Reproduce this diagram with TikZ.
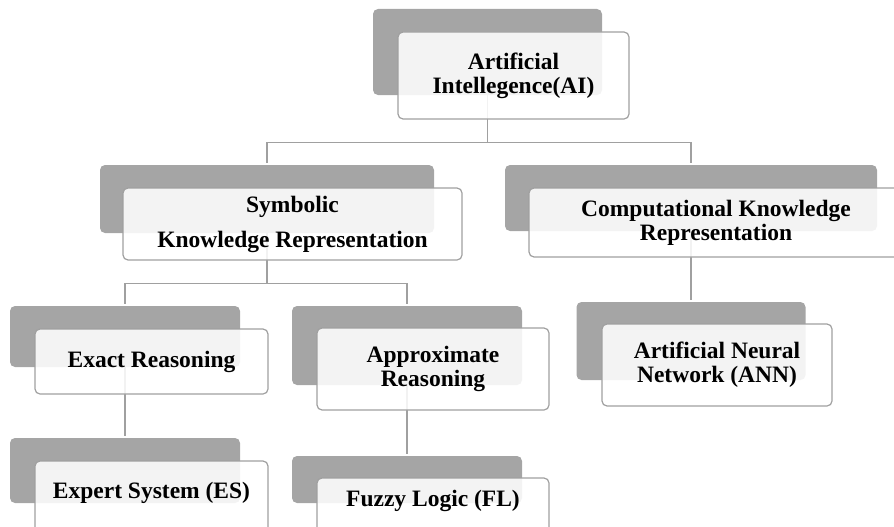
\documentclass[tikz,border=0pt]{standalone}
\usepackage{fontspec}
\setmainfont{Liberation Serif}
\usetikzlibrary{positioning}
\definecolor{shadegray}{HTML}{A5A5A5}
\definecolor{rulegray}{HTML}{A0A0A0}
\tikzset{
     back box/.style  = {rectangle, rounded corners=5pt, fill=shadegray, inner sep=0pt},
     front box/.style = {rectangle, rounded corners=5pt, draw=rulegray, line width=1.2pt,
                         fill=white, fill opacity=0.87, text opacity=1, inner sep=0pt,
                         align=center, font=\fontsize{23.5}{24}\selectfont\bfseries},
     link/.style      = {draw=rulegray, line width=1.4pt, shorten >=2pt},
    }

\begin{document}
\begin{tikzpicture}[x=1pt, y=-1pt]
        \useasboundingbox (0,0) rectangle (894,527);
        \clip (0,0) rectangle (894,527);

        % shaded boxes behind
        \node [back box, minimum width=229pt, minimum height=86pt] (ai-back)            at (487.5,52)  {};
        \node [back box, minimum width=334pt, minimum height=68pt] (symbolic-back)      at (267,199)   {};
        \node [back box, minimum width=372pt, minimum height=66pt] (computational-back) at (691,198)   {};
        \node [back box, minimum width=230pt, minimum height=61pt] (exact-back)         at (125,336.5) {};
        \node [back box, minimum width=230pt, minimum height=79pt] (approx-back)        at (407,345.5) {};
        \node [back box, minimum width=229pt, minimum height=78pt] (ann-back)           at (691,341)   {};
        \node [back box, minimum width=230pt, minimum height=65pt] (expert-back)        at (125,470.5) {};
        \node [back box, minimum width=230pt, minimum height=47pt] (fuzzy-back)         at (407,479.5) {};

        % tree links
        \draw [link] (ai-back.south) -- ++(0,47) -| (symbolic-back.north);
        \draw [link] (ai-back.south) -- ++(0,47) -| (computational-back.north);
        \draw [link] (symbolic-back.south) -- ++(0,50) -| (exact-back.north);
        \draw [link] (symbolic-back.south) -- ++(0,50) -| (approx-back.north);
        \draw [link] (exact-back.south) -- (expert-back.north);
        \draw [link] (approx-back.south) -- (fuzzy-back.north);
        \draw [link] (computational-back.south) -- (ann-back.north);

        % front boxes
        \node [front box, minimum width=231pt, minimum height=87pt] (ai)            at (513.5,75.5) {Artificial\\Intellegence(AI)};
        \node [front box, minimum width=339pt, minimum height=72pt] (symbolic)      at (292.5,224)  {Symbolic\\[11pt]Knowledge Representation};
        \node [front box, minimum width=374pt, minimum height=69pt] (computational) at (716,222.5)  {Computational Knowledge\\Representation};
        \node [front box, minimum width=233pt, minimum height=65pt] (exact)         at (151.5,361.5) {Exact Reasoning};
        \node [front box, minimum width=232pt, minimum height=82pt] (approx)        at (433,369)    {Approximate\\Reasoning};
        \node [front box, minimum width=230pt, minimum height=82pt] (ann)           at (717,365)    {Artificial Neural\\Network (ANN)};
        \node [front box, minimum width=233pt, minimum height=76pt, text depth=18pt] (expert) at (151.5,499) {Expert System (ES)};
        \node [front box, minimum width=232pt, minimum height=58pt, text depth=18pt] (fuzzy)  at (433,507)   {Fuzzy Logic (FL)};
    \end{tikzpicture}
\end{document}
